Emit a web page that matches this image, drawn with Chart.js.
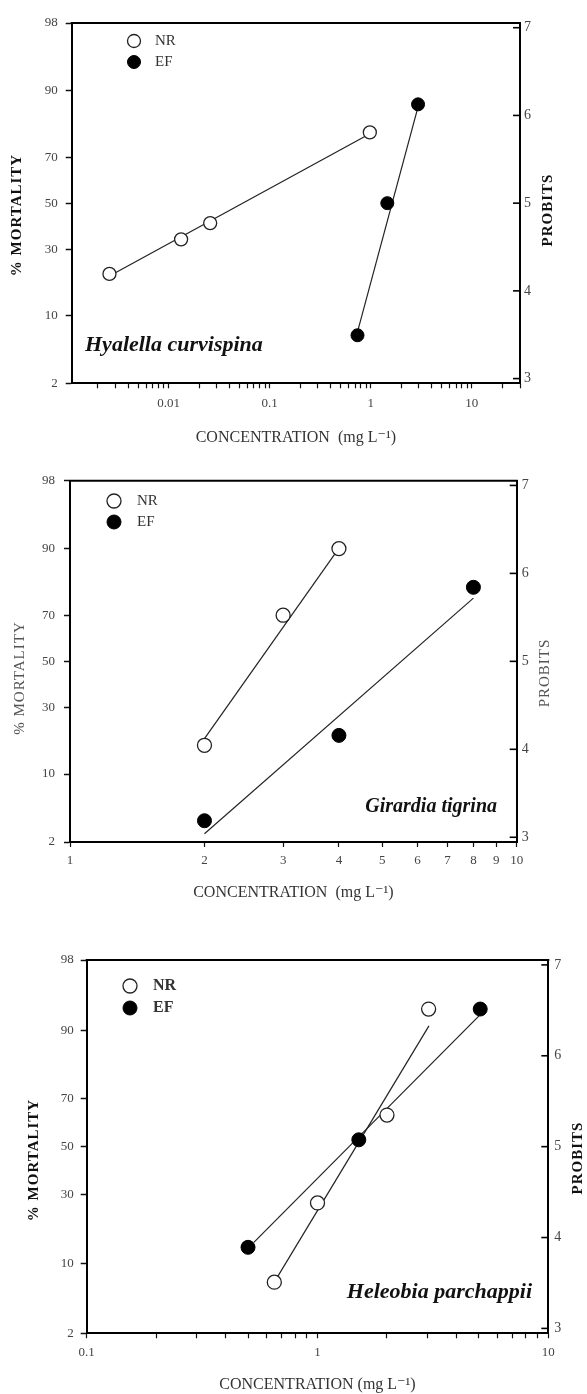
<!DOCTYPE html>
<html>
<head>
<meta charset="utf-8">
<script src="https://cdn.jsdelivr.net/npm/chart.js@4.4.0/dist/chart.umd.min.js"></script>
<style>
body { margin: 0; background: #fff; }
.panel { position: absolute; left: 0; width: 587px; }
canvas { display: block; }
</style>
</head>
<body>
<div class="panel" style="top:0"><canvas id="c1" width="587" height="460"></canvas></div>
<div class="panel" style="top:460px"><canvas id="c2" width="587" height="460"></canvas></div>
<div class="panel" style="top:920px"><canvas id="c3" width="587" height="474"></canvas></div>
<script>
var mortTicks = [2, 10, 30, 50, 70, 90, 98];
var probitTicks = [3, 4, 5, 6, 7];

// Hyalella curvispina
var hyaNrConc = [0.0026, 0.0133, 0.0258, 0.98];
var hyaNrMort = [21, 34, 41, 79];
var hyaEfConc = [0.74, 1.46, 2.94];
var hyaEfMort = [6.6, 50, 87];
var hyaNrFitConc = [0.0026, 0.95];
var hyaNrFitMort = [20.3, 78.3];
var hyaEfFitConc = [0.74, 2.94];
var hyaEfFitMort = [7.1, 86.4];
var hyaXLabels = [0.01, 0.1, 1, 10];

// Girardia tigrina
var girNrConc = [2, 3, 4];
var girNrMort = [17, 70, 90];
var girEfConc = [2, 4, 8];
var girEfMort = [3.5, 20, 80];
var girNrFitConc = [2, 3.95];
var girNrFitMort = [19, 89.4];
var girEfFitConc = [2, 8];
var girEfFitMort = [2.5, 76.4];
var girXLabels = [1, 2, 3, 4, 5, 6, 7, 8, 9, 10];

// Heleobia parchappii
var helNrConc = [0.65, 1, 2, 3.03];
var helNrMort = [6.8, 26.8, 63.6, 93.5];
var helEfConc = [0.5, 1.51, 5.07];
var helEfMort = [13.4, 53, 93.5];
var helNrFitConc = [0.65, 3.04];
var helNrFitMort = [6.8, 90.8];
var helEfFitConc = [0.53, 5.01];
var helEfFitMort = [14.6, 92.5];
var helXLabels = [0.1, 1, 10];

var serif = "'Liberation Serif', 'DejaVu Serif', serif";

// % mortality -> probit (5 + inverse normal, Acklam approximation)
function probit(pct) {
  var p = pct / 100;
  var a = [-39.69683028665376, 220.9460984245205, -275.9285104469687, 138.3577518672690, -30.66479806614716, 2.506628277459239];
  var b = [-54.47609879822406, 161.5858368580409, -155.6989798598866, 66.80131188771972, -13.28068155288572];
  var c = [-0.007784894002430293, -0.3223964580411365, -2.400758277161838, -2.549671370656629, 4.374664141464968, 2.938163982698783];
  var d = [0.007784695709041462, 0.3224671290700398, 2.445134137142996, 3.754408661907416];
  var q, r, z;
  if (p < 0.02425 || p > 0.97575) {
    q = Math.sqrt(-2 * Math.log(p < 0.5 ? p : 1 - p));
    z = (((((c[0]*q+c[1])*q+c[2])*q+c[3])*q+c[4])*q+c[5]) / ((((d[0]*q+d[1])*q+d[2])*q+d[3])*q+1);
    if (p > 0.5) z = -z;
  } else {
    q = p - 0.5; r = q * q;
    z = (((((a[0]*r+a[1])*r+a[2])*r+a[3])*r+a[4])*r+a[5])*q / (((((b[0]*r+b[1])*r+b[2])*r+b[3])*r+b[4])*r+1);
  }
  return 5 + z;
}

function logTicks(min, max) {
  var out = [];
  for (var e = Math.floor(Math.log10(min)); e <= Math.ceil(Math.log10(max)); e++) {
    for (var k = 1; k < 10; k++) {
      var v = Number((k * Math.pow(10, e)).toPrecision(3));
      if (v >= min && v <= max) out.push(v);
    }
  }
  return out;
}

function pts(xs, ys) {
  return xs.map(function (x, i) { return {x: x, y: probit(ys[i])}; });
}

function vText(ctx, text, x, y, font, color) {
  ctx.save();
  ctx.translate(x, y);
  ctx.rotate(-Math.PI / 2);
  ctx.font = font;
  ctx.letterSpacing = '1px';
  ctx.fillStyle = color;
  ctx.textAlign = 'center';
  ctx.textBaseline = 'middle';
  ctx.fillText(text, 0, 0);
  ctx.restore();
}

function mortalityChart(id, p) {
  var yMin = probit(mortTicks[0]), yMax = probit(mortTicks[mortTicks.length - 1]);
  var tickFont = {family: serif, size: 13};

  var decor = {
    id: 'decor',
    afterDraw: function (chart) {
      var ctx = chart.ctx, a = chart.chartArea;
      ctx.save();
      ctx.strokeStyle = '#000';
      ctx.lineWidth = 2;
      ctx.beginPath();
      ctx.moveTo(a.left - 1, a.top);
      ctx.lineTo(a.right + 1, a.top);
      ctx.stroke();

      // probit ticks point inward
      var y2 = chart.scales.y2;
      ctx.lineWidth = 1.6;
      y2.ticks.forEach(function (t) {
        var y = y2.getPixelForValue(t.value);
        ctx.beginPath();
        ctx.moveTo(a.right - 7, y);
        ctx.lineTo(a.right, y);
        ctx.stroke();
      });

      // legend
      var ds = chart.data.datasets;
      [0, 1].forEach(function (i) {
        var ly = p.legend.y[i];
        ctx.beginPath();
        ctx.arc(p.legend.x, ly, ds[i].pointRadius, 0, Math.PI * 2);
        ctx.fillStyle = ds[i].pointBackgroundColor;
        ctx.fill();
        ctx.lineWidth = ds[i].pointBorderWidth;
        ctx.strokeStyle = ds[i].pointBorderColor;
        ctx.stroke();
        ctx.font = p.legend.font;
        ctx.fillStyle = '#333';
        ctx.textAlign = 'left';
        ctx.textBaseline = 'middle';
        ctx.fillText(ds[i].label, p.legend.textX, ly);
      });

      vText(ctx, '% MORTALITY', p.yTitle.x, p.yTitle.y, p.titleFont, p.titleColor);
      vText(ctx, 'PROBITS', p.y2Title.x, p.y2Title.y, p.titleFont, p.titleColor);

      ctx.font = p.species.font;
      ctx.fillStyle = '#111';
      ctx.textAlign = p.species.align;
      ctx.textBaseline = 'middle';
      ctx.fillText(p.species.text, p.species.x, p.species.y);
      ctx.restore();
    }
  };

  return new Chart(document.getElementById(id), {
    type: 'scatter',
    data: {
      datasets: [
        {label: 'NR', data: pts(p.nrConc, p.nrMort), pointRadius: p.r,
         pointBackgroundColor: '#fff', pointBorderColor: '#222', pointBorderWidth: 1.3},
        {label: 'EF', data: pts(p.efConc, p.efMort), pointRadius: p.r,
         pointBackgroundColor: '#000', pointBorderColor: '#000', pointBorderWidth: 1},
        {label: 'NR fit', data: pts(p.nrFitConc, p.nrFitMort), showLine: true, pointRadius: 0,
         borderColor: '#222', borderWidth: 1.2},
        {label: 'EF fit', data: pts(p.efFitConc, p.efFitMort), showLine: true, pointRadius: 0,
         borderColor: '#222', borderWidth: 1.2}
      ]
    },
    options: {
      responsive: false,
      animation: false,
      layout: {padding: {top: p.padTop, left: 0, right: 0, bottom: 0}},
      plugins: {legend: {display: false}, tooltip: {enabled: false}},
      scales: {
        x: {
          type: 'logarithmic',
          min: p.xMin,
          max: p.xMax,
          afterFit: function (s) { s.height = p.xHeight; },
          afterBuildTicks: function (s) {
            s.ticks = logTicks(p.xMin, p.xMax).map(function (v) { return {value: v}; });
          },
          ticks: {
            autoSkip: false, maxRotation: 0, padding: p.xTickPad, color: '#444', font: tickFont,
            callback: function (v) { return p.xLabels.indexOf(v) >= 0 ? String(v) : ''; }
          },
          grid: {drawOnChartArea: false, tickLength: 5, tickColor: '#111', tickWidth: 1.2},
          border: {color: '#000', width: 2},
          title: {display: true, text: p.xTitle, color: '#333', font: {family: serif, size: 16},
                  padding: {top: 0, bottom: p.xTitlePad}}
        },
        y: {
          type: 'linear',
          position: 'left',
          min: yMin,
          max: yMax,
          bounds: 'data',
          afterFit: function (s) { s.width = p.yWidth; },
          afterBuildTicks: function (s) {
            s.ticks = mortTicks.map(function (m) { return {value: probit(m)}; });
          },
          ticks: {
            padding: p.yTickPad, color: '#444', font: tickFont,
            callback: function (v, i) { return String(mortTicks[i]); }
          },
          grid: {drawOnChartArea: false, tickLength: 6, tickColor: '#111', tickWidth: 1.5},
          border: {color: '#000', width: 2}
        },
        y2: {
          type: 'linear',
          position: 'right',
          min: yMin,
          max: yMax,
          bounds: 'data',
          afterFit: function (s) { s.width = p.y2Width; },
          afterBuildTicks: function (s) {
            s.ticks = probitTicks.map(function (v) { return {value: v}; });
          },
          ticks: {
            padding: p.y2TickPad, color: '#444', font: {family: serif, size: 14},
            callback: function (v) { return String(v); }
          },
          grid: {drawOnChartArea: false, drawTicks: false},
          border: {color: '#000', width: 2}
        }
      }
    },
    plugins: [decor]
  });
}

mortalityChart('c1', {
  nrConc: hyaNrConc, nrMort: hyaNrMort, efConc: hyaEfConc, efMort: hyaEfMort,
  nrFitConc: hyaNrFitConc, nrFitMort: hyaNrFitMort, efFitConc: hyaEfFitConc, efFitMort: hyaEfFitMort,
  xMin: 0.0011, xMax: 30, xLabels: hyaXLabels, r: 6.5,
  padTop: 23, xHeight: 76.7, yWidth: 71.7, y2Width: 67,
  xTickPad: 7, yTickPad: 8, y2TickPad: 4, xTitlePad: 13,
  xTitle: 'CONCENTRATION  (mg L⁻¹)',
  titleFont: 'bold 15px ' + serif, titleColor: '#111',
  yTitle: {x: 17, y: 215}, y2Title: {x: 548, y: 210},
  legend: {x: 134, y: [41, 62], textX: 155, font: '15px ' + serif},
  species: {text: 'Hyalella curvispina', x: 85, y: 345, align: 'left', font: 'bold italic 22px ' + serif}
});

mortalityChart('c2', {
  nrConc: girNrConc, nrMort: girNrMort, efConc: girEfConc, efMort: girEfMort,
  nrFitConc: girNrFitConc, nrFitMort: girNrFitMort, efFitConc: girEfFitConc, efFitMort: girEfFitMort,
  xMin: 1, xMax: 10, xLabels: girXLabels, r: 7,
  padTop: 20.7, xHeight: 78, yWidth: 70, y2Width: 70.3,
  xTickPad: 6, yTickPad: 9, y2TickPad: 5, xTitlePad: 18,
  xTitle: 'CONCENTRATION  (mg L⁻¹)',
  titleFont: '15px ' + serif, titleColor: '#555',
  yTitle: {x: 20, y: 218}, y2Title: {x: 545, y: 213},
  legend: {x: 114, y: [41, 62], textX: 137, font: '15px ' + serif},
  species: {text: 'Girardia tigrina', x: 497, y: 347, align: 'right', font: 'bold italic 20px ' + serif}
});

mortalityChart('c3', {
  nrConc: helNrConc, nrMort: helNrMort, efConc: helEfConc, efMort: helEfMort,
  nrFitConc: helNrFitConc, nrFitMort: helNrFitMort, efFitConc: helEfFitConc, efFitMort: helEfFitMort,
  xMin: 0.1, xMax: 10, xLabels: helXLabels, r: 7,
  padTop: 40, xHeight: 60.7, yWidth: 86.7, y2Width: 38.7,
  xTickPad: 6.5, yTickPad: 7, y2TickPad: 6, xTitlePad: 0,
  xTitle: 'CONCENTRATION (mg L⁻¹)',
  titleFont: 'bold 15px ' + serif, titleColor: '#111',
  yTitle: {x: 34, y: 240}, y2Title: {x: 578, y: 238},
  legend: {x: 130, y: [66, 88], textX: 153, font: 'bold 16px ' + serif},
  species: {text: 'Heleobia parchappii', x: 532, y: 372, align: 'right', font: 'bold italic 22px ' + serif}
});
</script>
</body>
</html>
